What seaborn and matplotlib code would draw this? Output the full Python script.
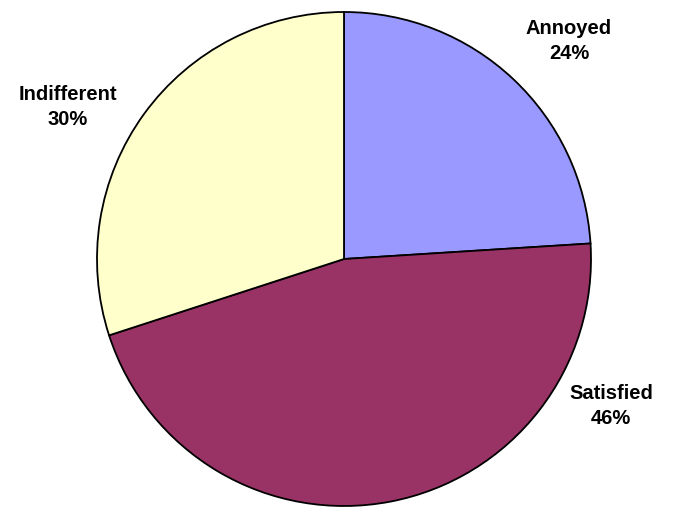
import matplotlib
matplotlib.use("Agg")
import matplotlib.pyplot as plt
import seaborn as sns

categories = ["Annoyed", "Satisfied", "Indifferent"]
shares = [24, 46, 30]
colors = ["#9999FF", "#993366", "#FFFFCC"]

# label anchor points (pixel coordinates, origin bottom-left)
label_pos = [(569, 476), (611, 111), (68, 410)]

sns.set_style("white")
plt.rcParams["font.family"] = ["Liberation Sans", "DejaVu Sans"]

W, H = 676, 517
fig = plt.figure(figsize=(W / 100, H / 100), dpi=100)
ax = fig.add_axes([0, 0, 1, 1])

ax.pie(
    shares,
    colors=sns.color_palette(colors),
    startangle=90,
    counterclock=False,
    center=(344, 258),
    radius=247,
    wedgeprops=dict(edgecolor="black", linewidth=1.3),
)

for name, val, (x, y) in zip(categories, shares, label_pos):
    ax.text(x, y, f"{name}\n{val}%", ha="center", va="center",
            fontsize=14.5, fontweight="bold", linespacing=1.45, color="black")

ax.set_xlim(0, W)
ax.set_ylim(0, H)
ax.set_aspect("equal")
ax.axis("off")

fig.savefig("out.png", dpi=100, facecolor="white")
